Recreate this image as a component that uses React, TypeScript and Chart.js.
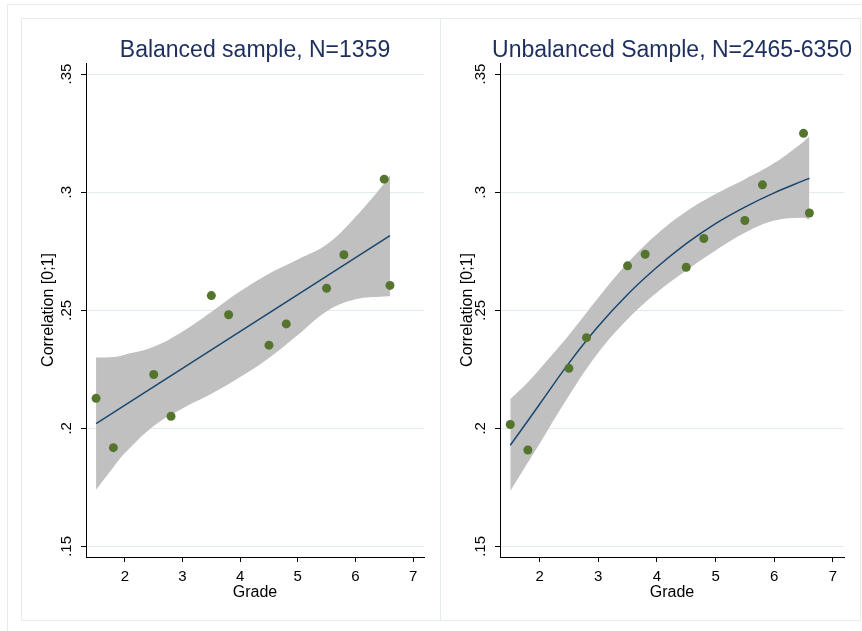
import React, { useEffect, useRef } from 'react';
import { Chart, registerables } from 'chart.js';

Chart.register(...registerables);

// Observed correlations by grade
const grades = [1.5, 1.8, 2.5, 2.8, 3.5, 3.8, 4.5, 4.8, 5.5, 5.8, 6.5, 6.6];
const balancedCorr = [0.2127, 0.1918, 0.2228, 0.2051, 0.2562, 0.2481, 0.2352, 0.2442, 0.2593, 0.2735, 0.3055, 0.2605];
const unbalancedCorr = [0.2016, 0.1908, 0.2254, 0.2384, 0.2688, 0.2737, 0.2682, 0.2804, 0.288, 0.3031, 0.3249, 0.2912];

// Linear fit (balanced sample)
const balancedFitGrades = [1.5, 6.6];
const balancedFit = [0.202, 0.2816];

// Confidence band / curved fit evaluation grid
const bandGrades = [1.5, 1.8, 2.0, 2.5, 3.0, 3.5, 4.0, 4.5, 5.0, 5.5, 6.0, 6.5, 6.6];
const balancedUpper = [0.23, 0.2302, 0.2312, 0.2345, 0.241, 0.2493, 0.258, 0.2655, 0.2715, 0.2778, 0.2895, 0.3037, 0.3072];
const balancedLower = [0.174, 0.1835, 0.1895, 0.201, 0.2084, 0.2146, 0.2217, 0.2298, 0.2395, 0.2495, 0.2546, 0.2558, 0.2559];

const unbalancedFit = [0.1928, 0.2032, 0.2102, 0.2276, 0.2432, 0.2567, 0.2682, 0.2782, 0.2867, 0.2937, 0.2997, 0.3049, 0.3059];
const unbalancedUpper = [0.2123, 0.2195, 0.225, 0.2395, 0.2553, 0.27, 0.2822, 0.2918, 0.2992, 0.3055, 0.3123, 0.3214, 0.3237];
const unbalancedLower = [0.1734, 0.1855, 0.1935, 0.2138, 0.232, 0.2462, 0.2575, 0.2668, 0.2753, 0.2828, 0.288, 0.2892, 0.2883];

// Axis ticks
const xTicks = [2, 3, 4, 5, 6, 7];
const yTicks = [0.15, 0.2, 0.25, 0.3, 0.35];
const yTickLabels = ['.15', '.2', '.25', '.3', '.35'];

const FONT = "'Liberation Sans', Arial, Helvetica, sans-serif";
const TITLE_COLOR = '#1e2f5e';
const DOT_COLOR = '#55752f';
const FIT_COLOR = '#1a476f';
const BAND_COLOR = 'rgb(192,192,192)';
const GRID_COLOR = '#e2ebef';
const FRAME_COLOR = '#e4ecef';

const toPoints = (xs: number[], ys: number[]) => xs.map((x, i) => ({ x, y: ys[i] }));

const panelTitle = {
  id: 'panelTitle',
  afterDraw(chart: any, _args: any, opts: any) {
    const { ctx, chartArea } = chart;
    ctx.save();
    ctx.font = `23px ${FONT}`;
    ctx.fillStyle = TITLE_COLOR;
    ctx.textAlign = 'center';
    ctx.textBaseline = 'alphabetic';
    ctx.fillText(opts.text, (chartArea.left + chartArea.right) / 2, opts.baseline);
    ctx.restore();
  },
};

type PanelProps = {
  title: string;
  corr: number[];
  fitX: number[];
  fit: number[];
  curved: boolean;
  upper: number[];
  lower: number[];
  width: number;
  axisWidth: number;
  plotWidth: number;
  left: number;
};

function Panel({ title, corr, fitX, fit, curved, upper, lower, width, axisWidth, plotWidth, left }: PanelProps) {
  const ref = useRef<HTMLCanvasElement | null>(null);
  const height = 602;

  useEffect(() => {
    if (!ref.current) return;
    const chart = new Chart(ref.current, {
      type: 'line',
      data: {
        datasets: [
          {
            type: 'scatter',
            data: toPoints(grades, corr),
            pointRadius: 4.5,
            pointHoverRadius: 4.5,
            backgroundColor: DOT_COLOR,
            borderWidth: 0,
            pointStyle: 'circle',
          } as any,
          {
            type: 'line',
            data: toPoints(fitX, fit),
            borderColor: FIT_COLOR,
            borderWidth: 1.5,
            pointRadius: 0,
            fill: false,
            tension: curved ? 0.4 : 0,
          },
          {
            type: 'line',
            data: toPoints(bandGrades, upper),
            borderColor: 'rgba(0,0,0,0)',
            borderWidth: 0,
            pointRadius: 0,
            backgroundColor: BAND_COLOR,
            fill: '+1',
            tension: 0.4,
          },
          {
            type: 'line',
            data: toPoints(bandGrades, lower),
            borderColor: 'rgba(0,0,0,0)',
            borderWidth: 0,
            pointRadius: 0,
            fill: false,
            tension: 0.4,
          },
        ],
      },
      options: {
        responsive: false,
        animation: false,
        devicePixelRatio: 1,
        events: [],
        layout: { padding: { top: 45, right: width - axisWidth - plotWidth, left: 0, bottom: 0 } },
        plugins: {
          legend: { display: false },
          tooltip: { enabled: false },
          panelTitle: { text: title, baseline: 39 },
        } as any,
        scales: {
          x: {
            type: 'linear',
            min: 1.325,
            max: 7.19,
            afterBuildTicks: (s: any) => {
              s.ticks = xTicks.map((v) => ({ value: v }));
            },
            afterFit: (s: any) => {
              s.height = 63;
            },
            ticks: {
              autoSkip: false,
              maxRotation: 0,
              minRotation: 0,
              padding: 6,
              color: '#000',
              font: { family: FONT, size: 15 },
              callback: (v: any) => String(v),
            },
            grid: { drawOnChartArea: false, tickLength: 5, tickColor: '#000', color: '#000' },
            border: { display: true, color: '#000', width: 1 },
            title: {
              display: true,
              text: 'Grade',
              color: '#000',
              font: { family: FONT, size: 16 },
              padding: { top: 0, bottom: 18 },
            },
          },
          y: {
            type: 'linear',
            min: 0.1455,
            max: 0.3547,
            afterBuildTicks: (s: any) => {
              s.ticks = yTicks.map((v) => ({ value: v }));
            },
            afterFit: (s: any) => {
              s.width = axisWidth;
            },
            ticks: {
              autoSkip: false,
              minRotation: 90,
              maxRotation: 90,
              crossAlign: 'center',
              padding: 4,
              color: '#000',
              font: { family: FONT, size: 15 },
              callback: (v: any) => {
                const i = yTicks.findIndex((t) => Math.abs(t - Number(v)) < 1e-9);
                return i >= 0 ? yTickLabels[i] : '';
              },
            },
            grid: { color: GRID_COLOR, tickColor: '#000', tickLength: 5, lineWidth: 1 },
            border: { display: true, color: '#000', width: 1 },
            title: {
              display: true,
              text: 'Correlation [0;1]',
              color: '#000',
              font: { family: FONT, size: 16 },
              padding: { top: 18, bottom: 0 },
            },
          },
        },
      },
      plugins: [panelTitle],
    } as any);
    return () => chart.destroy();
  }, []);

  return (
    <canvas
      ref={ref}
      width={width}
      height={height}
      style={{ position: 'absolute', left, top: 18, width, height }}
    />
  );
}

export default function App() {
  return (
    <div
      style={{
        position: 'fixed',
        left: 0,
        top: 0,
        width: 862,
        height: 631,
        background: '#fff',
        overflow: 'hidden',
      }}
    >
      <div
        style={{
          position: 'absolute',
          left: 7,
          top: 4,
          width: 900,
          height: 700,
          borderLeft: `1px solid ${FRAME_COLOR}`,
          borderTop: `1px solid ${FRAME_COLOR}`,
        }}
      />
      <div
        style={{
          position: 'absolute',
          left: 21,
          top: 18,
          width: 420,
          height: 603,
          boxSizing: 'border-box',
          border: `1px solid ${FRAME_COLOR}`,
        }}
      />
      <div
        style={{
          position: 'absolute',
          left: 440,
          top: 18,
          width: 421,
          height: 603,
          boxSizing: 'border-box',
          border: `1px solid ${FRAME_COLOR}`,
        }}
      />
      <Panel
        title="Balanced sample, N=1359"
        corr={balancedCorr}
        fitX={balancedFitGrades}
        fit={balancedFit}
        curved={false}
        upper={balancedUpper}
        lower={balancedLower}
        width={419}
        axisWidth={65}
        plotWidth={338}
        left={21}
      />
      <Panel
        title="Unbalanced Sample, N=2465-6350"
        corr={unbalancedCorr}
        fitX={bandGrades}
        fit={unbalancedFit}
        curved={true}
        upper={unbalancedUpper}
        lower={unbalancedLower}
        width={420}
        axisWidth={60}
        plotWidth={344}
        left={440}
      />
    </div>
  );
}
